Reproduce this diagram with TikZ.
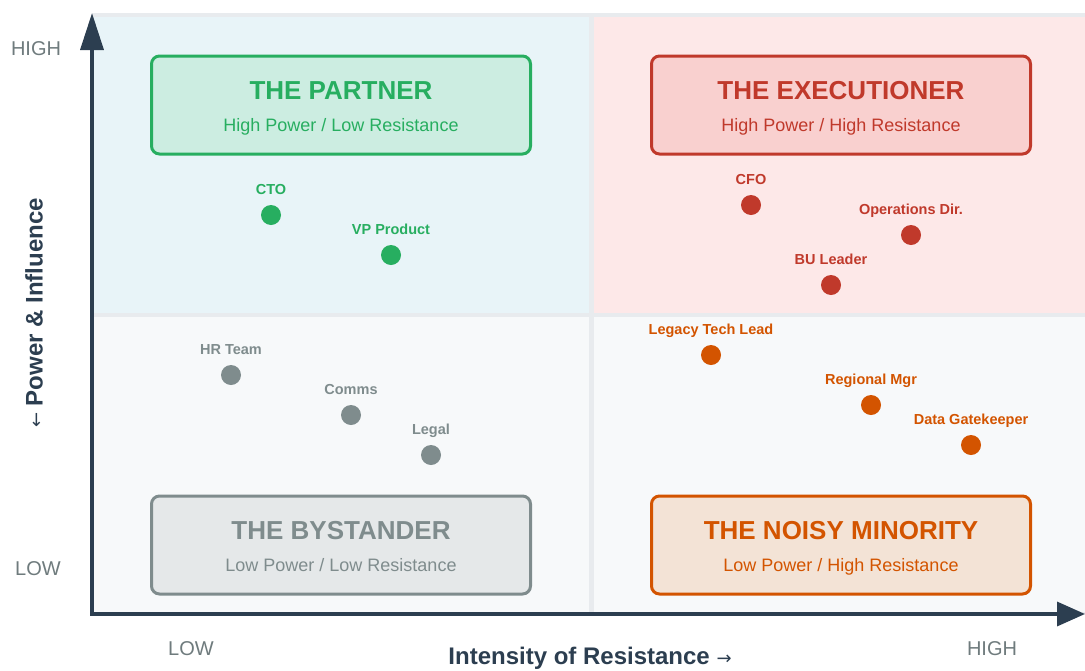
\documentclass[tikz,border=0pt]{standalone}
\usepackage{fontspec}
\setmainfont{Liberation Sans}
\newfontfamily\arrowfont{DejaVu Sans}
\usetikzlibrary{arrows.meta}

\definecolor{axisdark}{HTML}{2C3E50}
\definecolor{gridline}{HTML}{E8EBEE}
\definecolor{tickgray}{HTML}{6F7B7D}
\definecolor{partner}{HTML}{27AE60}
\definecolor{partnerfill}{HTML}{CCEDE1}
\definecolor{partnerbg}{HTML}{E8F4F8}
\definecolor{exec}{HTML}{C0392B}
\definecolor{execfill}{HTML}{F9D0CF}
\definecolor{execbg}{HTML}{FDE8E8}
\definecolor{bystander}{HTML}{7F8C8D}
\definecolor{bystanderfill}{HTML}{E5E8E9}
\definecolor{noisy}{HTML}{D35400}
\definecolor{noisyfill}{HTML}{F3E3D6}
\definecolor{lowbg}{HTML}{F7F9FA}

\begin{document}
\begin{tikzpicture}[x=1pt, y=-1pt,
    qbox/.style={rectangle, rounded corners=8pt, line width=3pt,
                 minimum width=379pt, minimum height=98pt},
    qtitle/.style={anchor=base, font=\fontsize{26}{30}\selectfont\bfseries},
    qsub/.style={anchor=base, font=\fontsize{18}{22}\selectfont},
    dot/.style={circle, inner sep=0pt, minimum size=20pt},
    ptlabel/.style={anchor=base, font=\fontsize{14.5}{17}\selectfont\bfseries},
    tick/.style={anchor=base, text=tickgray, font=\fontsize{20}{24}\selectfont},
    axis/.style={line width=3.5pt, draw=axisdark}]

\useasboundingbox (0,0) rectangle (1085,670);

% quadrants
\fill[gridline] (92,13) rectangle (1085,614);
\fill[partnerbg] (94,17) rectangle (589,313);
\fill[execbg] (594,17) rectangle (1085,313);
\fill[lowbg] (94,317) rectangle (589,612);
\fill[lowbg] (594,317) rectangle (1085,612);

% quadrant boxes
\foreach \x/\y/\n/\c/\f/\t/\s in {
    341/105/partner/partner/partnerfill/{THE PARTNER}/{High Power / Low Resistance},
    841/105/exec/exec/execfill/{THE EXECUTIONER}/{High Power / High Resistance},
    341/545/bystander/bystander/bystanderfill/{THE BYSTANDER}/{Low Power / Low Resistance},
    841/545/noisy/noisy/noisyfill/{THE NOISY MINORITY}/{Low Power / High Resistance}}
{
    \node[qbox, draw=\c, fill=\f] (\n) at (\x,\y) {};
    \node[qtitle, text=\c] (\n-title) at (\x,\y-6) {\t};
    \node[qsub, text=\c] (\n-sub) at (\x,\y+26) {\s};
}

% stakeholders
\foreach [count=\i] \x/\y/\t/\c in {
    271/215/CTO/partner, 391/255/VP Product/partner,
    751/205/CFO/exec, 911/235/Operations Dir./exec, 831/285/BU Leader/exec,
    231/375/HR Team/bystander, 351/415/Comms/bystander, 431/455/Legal/bystander,
    711/355/Legacy Tech Lead/noisy, 871/405/Regional Mgr/noisy, 971/445/Data Gatekeeper/noisy}
{
    \node[dot, fill=\c] (p\i) at (\x,\y) {};
    \node[ptlabel, text=\c] (l\i) at (\x,\y-21) {\t};
}

% axes
\coordinate (origin) at (92,614);
\coordinate (ytip) at (92,13);
\coordinate (xtip) at (1085,614);
\draw[axis, -{Triangle[length=37pt, width=23pt]}] (origin) -- (ytip);
\draw[axis, -{Triangle[length=28pt, width=24pt]}] (90,614) -- (xtip);

\node[tick] (yhigh) at (36,55) {HIGH};
\node[tick] (ylow) at (38,575) {LOW};
\node[tick] (xlow) at (191,655) {LOW};
\node[tick] (xhigh) at (992,655) {HIGH};

\node[anchor=base, text=axisdark, font=\fontsize{24}{28}\selectfont\bfseries]
    (xtitle) at (590,664) {Intensity of Resistance {\arrowfont\mdseries\fontsize{18}{20}\selectfont →}};
\node[rotate=90, text=axisdark, font=\fontsize{24}{28}\selectfont\bfseries]
    (ytitle) at (34,313) {{\arrowfont\mdseries\fontsize{18}{20}\selectfont ←} Power \& Influence};

\end{tikzpicture}
\end{document}
